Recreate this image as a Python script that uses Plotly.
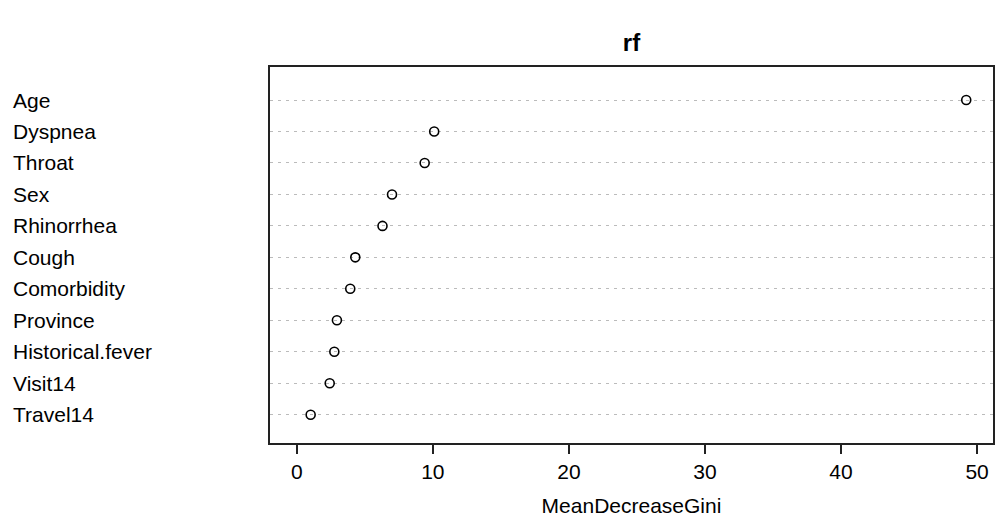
import plotly.graph_objects as go

variables = ["Age", "Dyspnea", "Throat", "Sex", "Rhinorrhea", "Cough",
             "Comorbidity", "Province", "Historical.fever", "Visit14", "Travel14"]
mean_decrease_gini = [49.2, 10.1, 9.4, 7.0, 6.3, 4.3, 3.93, 2.95, 2.76, 2.42, 1.02]
x_ticks = [0, 10, 20, 30, 40, 50]

n = len(variables)
ypos = list(range(n, 0, -1))

xmax = max(mean_decrease_gini)
pad = 0.04 * xmax

fig = go.Figure()
fig.add_trace(go.Scatter(
    x=mean_decrease_gini, y=ypos, mode="markers",
    marker=dict(symbol="circle-open", size=9, color="black", line=dict(width=1.6, color="black")),
    hoverinfo="x+text", text=variables, showlegend=False,
))

font_family = "Liberation Sans, Arial, sans-serif"

for name, yv in zip(variables, ypos):
    fig.add_annotation(
        text=name, x=-260 / 725, y=yv, xref="paper", yref="y",
        xanchor="left", yanchor="middle", showarrow=False,
        font=dict(family=font_family, size=21, color="black"),
    )

fig.update_layout(
    width=999, height=532,
    margin=dict(l=270, r=4, t=67, b=89),
    plot_bgcolor="white", paper_bgcolor="white",
    title=dict(text="<b>rf</b>", x=0.5, xref="paper", y=1 - 43 / 532, yref="container",
               xanchor="center", yanchor="middle",
               font=dict(family=font_family, size=24, color="black")),
    xaxis=dict(
        range=[-pad, xmax + pad], tickvals=x_ticks, ticktext=[str(t) for t in x_ticks],
        showgrid=False, zeroline=False, showline=True, mirror=True,
        linecolor="#222", linewidth=2, ticks="outside", ticklen=9, tickwidth=2,
        tickcolor="#222",
        tickfont=dict(family=font_family, size=21, color="black"),
        title=dict(text="MeanDecreaseGini", standoff=16,
                   font=dict(family=font_family, size=21, color="black")),
    ),
    yaxis=dict(
        range=[0.1, 12.05], tickvals=ypos, showticklabels=False,
        showgrid=True, gridcolor="#bbbbbb", griddash="3px,5px", gridwidth=1,
        zeroline=False, showline=True, mirror=True, linecolor="#222", linewidth=2,
        ticks="",
    ),
)

fig.write_html("out.html", config={"displayModeBar": False},
               post_script="document.body.style.margin='0';document.body.style.padding='0';")
